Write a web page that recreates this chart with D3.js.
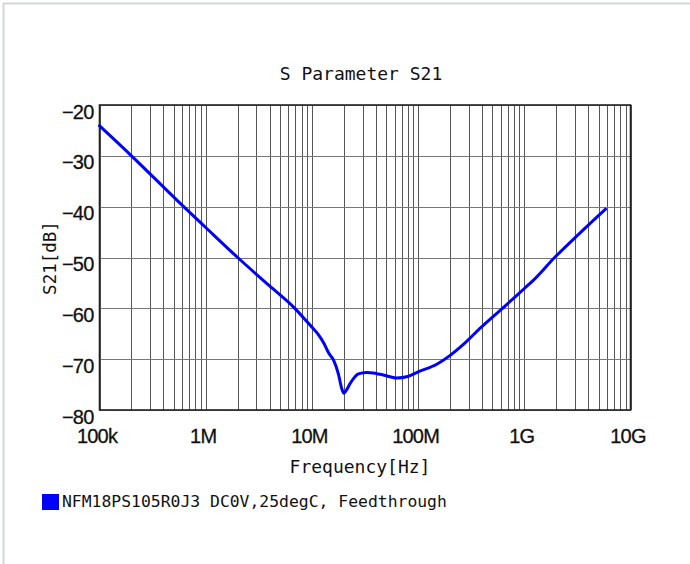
<!DOCTYPE html>
<html>
<head>
<meta charset="utf-8">
<script src="https://cdn.jsdelivr.net/npm/d3@7"></script>
<style>
  html, body { margin: 0; padding: 0; background: #fff; }
  svg { display: block; }
</style>
</head>
<body>
<svg id="chart" width="690" height="564"></svg>
<script>
// ---- data ----
const freqHz = [1e5, 2e5, 6.2e5, 1e6, 2e6, 4e6, 6.9e6, 9.6e6, 1.19e7, 1.3e7, 1.44e7, 1.6e7, 1.78e7, 1.91e7, 2.0e7, 2.1e7, 2.29e7, 2.74e7, 3.28e7, 4.0e7, 4.7e7, 6.28e7, 8.0e7, 1.0e8, 1.5e8, 1.99e8, 2.7e8, 3.8e8, 6.54e8, 1.0e9, 1.2e9, 1.93e9, 3.3e9, 5.82e9];
const s21dB  = [-24.1, -30, -40, -44.1, -50, -55.6, -60, -63.3, -65.6, -66.9, -68.8, -70.2, -73, -75.8, -76.7, -76.2, -74.8, -72.9, -72.6, -72.8, -73.1, -73.7, -73.4, -72.5, -71.0, -69.3, -67.0, -64.0, -59.6, -56.1, -54.6, -50, -45.3, -40.5];
const xTickValues = [1e5, 1e6, 1e7, 1e8, 1e9, 1e10];
const xTickLabels = ["100k", "1M", "10M", "100M", "1G", "10G"];
const yTickValues = [-20, -30, -40, -50, -60, -70, -80];
const yTickLabels = ["\u221220", "\u221230", "\u221240", "\u221250", "\u221260", "\u221270", "\u221280"];
const titleText = "S Parameter S21";
const xTitle = "Frequency[Hz]";
const yTitle = "S21[dB]";
const legendText = "NFM18PS105R0J3 DC0V,25degC, Feedthrough";

// ---- layout ----
const svg = d3.select("#chart");
const L = 99.5, R = 630.5, T = 105, B = 410;
const x = d3.scaleLog().domain([1e5, 1e10]).range([L, R]);
const y = d3.scaleLinear().domain([-80, -20]).range([B, T]);

const mono = "'DejaVu Sans Mono', monospace";
const sans = "'Liberation Sans', Arial, sans-serif";

// outer frame (top/left only visible)
svg.append("rect").attr("x", 3.5).attr("y", 3.5).attr("width", 800).attr("height", 800)
  .attr("fill", "none").attr("stroke", "#d3d6da").attr("stroke-width", 2);

// vertical grid (decades and minor)
const minor = [];
for (let e = 5; e < 10; e++) for (let m = 1; m <= 9; m++) minor.push(m * Math.pow(10, e));
minor.push(1e10);
svg.append("g").selectAll("line").data(minor).join("line")
  .attr("x1", d => Math.round(x(d)) + 0.5).attr("x2", d => Math.round(x(d)) + 0.5)
  .attr("y1", T).attr("y2", B)
  .attr("stroke", "#555").attr("stroke-width", 1);

// horizontal grid
svg.append("g").selectAll("line").data(yTickValues).join("line")
  .attr("x1", L).attr("x2", R)
  .attr("y1", d => Math.round(y(d)) + 0.5).attr("y2", d => Math.round(y(d)) + 0.5)
  .attr("stroke", "#777").attr("stroke-width", 1);

// plot border
svg.append("rect").attr("x", L).attr("y", T).attr("width", R - L).attr("height", B - T)
  .attr("fill", "none").attr("stroke", "#222").attr("stroke-width", 1.6);

// axes labels via d3 axes (no domain/ticks lines)
const xAxis = d3.axisBottom(x).tickValues(xTickValues)
  .tickFormat((d, i) => xTickLabels[i]).tickSize(0).tickPadding(0);
const gx = svg.append("g").attr("transform", `translate(-3,${B})`).call(xAxis);
gx.select(".domain").remove();
gx.selectAll("text").attr("dy", null).attr("y", 33)
  .style("font-family", sans).style("font-size", "20px").style("letter-spacing", "-0.8px")
  .attr("fill", "#111").attr("stroke", "#111").attr("stroke-width", 0.3);

const yAxis = d3.axisLeft(y).tickValues(yTickValues)
  .tickFormat((d, i) => yTickLabels[i]).tickSize(0).tickPadding(0);
const gy = svg.append("g").attr("transform", `translate(${L - 6},0)`).call(yAxis);
gy.select(".domain").remove();
gy.selectAll("text").attr("dy", null).attr("y", 13).attr("x", 0)
  .style("font-family", sans).style("font-size", "20px").style("letter-spacing", "-0.8px")
  .attr("fill", "#111").attr("stroke", "#111").attr("stroke-width", 0.3);

// curve
const pts = freqHz.map((f, i) => [f, s21dB[i]]);
svg.append("path").datum(pts)
  .attr("d", d3.line().x(d => x(d[0])).y(d => y(d[1])).curve(d3.curveMonotoneX))
  .attr("fill", "none").attr("stroke", "#0000ff").attr("stroke-width", 3)
  .attr("stroke-linejoin", "round").attr("stroke-linecap", "round");

// title
svg.append("text").attr("x", 361).attr("y", 80).attr("text-anchor", "middle")
  .style("font-family", mono).style("font-size", "18px").attr("fill", "#111").text(titleText);

// x title
svg.append("text").attr("x", 360).attr("y", 473).attr("text-anchor", "middle")
  .style("font-family", mono).style("font-size", "18px").attr("fill", "#111").text(xTitle);

// y title
svg.append("text").attr("transform", "translate(56,258) rotate(-90)").attr("text-anchor", "middle")
  .style("font-family", mono).style("font-size", "17.5px").attr("fill", "#111").text(yTitle);

// legend
svg.append("rect").attr("x", 42).attr("y", 494).attr("width", 17).attr("height", 16).attr("fill", "#0000ff");
svg.append("text").attr("x", 62).attr("y", 507)
  .style("font-family", mono).style("font-size", "16.4px").attr("fill", "#111").text(legendText);
</script>
</body>
</html>
